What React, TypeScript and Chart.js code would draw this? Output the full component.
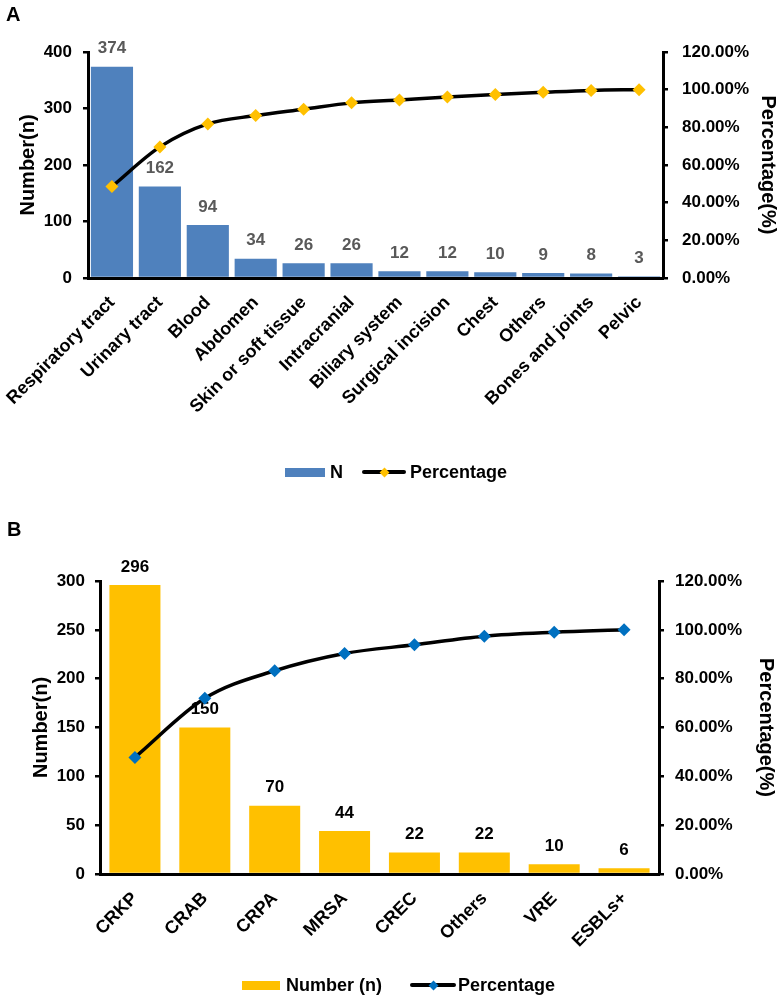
import React, { useEffect, useRef } from "react";
import { Chart, registerables } from "chart.js";

Chart.register(...registerables);

const FONT = '"Liberation Sans", Arial, Helvetica, sans-serif';

// ---- Panel A data ----
const sitesA = [
  "Respiratory tract",
  "Urinary tract",
  "Blood",
  "Abdomen",
  "Skin or soft tissue",
  "Intracranial",
  "Biliary system",
  "Surgical incision",
  "Chest",
  "Others",
  "Bones and joints",
  "Pelvic",
];
const countsA = [374, 162, 94, 34, 26, 26, 12, 12, 10, 9, 8, 3];
const percentA = [48.57, 69.61, 81.82, 86.23, 89.61, 92.99, 94.55, 96.1, 97.4, 98.57, 99.61, 100];
const leftMaxA = 400;
const leftStepA = 100;

// ---- Panel B data ----
const pathogensB = ["CRKP", "CRAB", "CRPA", "MRSA", "CREC", "Others", "VRE", "ESBLs+"];
const countsB = [296, 150, 70, 44, 22, 22, 10, 6];
const percentB = [47.74, 71.94, 83.23, 90.32, 93.87, 97.42, 99.03, 100];
const leftMaxB = 300;
const leftStepB = 50;

const rightMax = 120;
const rightStep = 20;

const barLabels = {
  id: "barLabels",
  afterDatasetDraw(chart: any, args: any, opts: any) {
    if (args.index !== 0) return;
    const ctx = chart.ctx;
    const data = chart.data.datasets[0].data;
    ctx.save();
    ctx.font = `bold 17px ${FONT}`;
    ctx.fillStyle = opts.color || "#000";
    ctx.textAlign = "center";
    ctx.textBaseline = "middle";
    args.meta.data.forEach((el: any, i: number) => {
      ctx.fillText(String(data[i]), el.x, el.y - (opts.offset || 18));
    });
    ctx.restore();
  },
};

type ParetoProps = {
  width: number;
  height: number;
  labels: string[];
  counts: number[];
  percents: number[];
  barColor: string;
  markerColor: string;
  labelColor: string;
  barName: string;
  leftMax: number;
  leftStep: number;
  barPct: number;
  area: { left: number; right: number; top: number; bottom: number };
  leftTickPad: number;
  rightTickPad: number;
  leftTitlePad: number;
  rightTitlePad: number;
  xTickPad: number;
};

function zeroPad(s: any) {
  s.paddingLeft = 0;
  s.paddingRight = 0;
  s.paddingTop = 0;
  s.paddingBottom = 0;
}

function Pareto(p: ParetoProps) {
  const ref = useRef<HTMLCanvasElement | null>(null);
  useEffect(() => {
    if (!ref.current) return;
    const tickFont = { family: FONT, size: 17, weight: "bold" as const };
    const xTickFont = { family: FONT, size: 18, weight: "bold" as const };
    const titleFont = { family: FONT, size: 20, weight: "bold" as const };
    const chart = new Chart(ref.current, {
      type: "bar",
      data: {
        labels: p.labels,
        datasets: [
          {
            type: "bar",
            label: p.barName,
            data: p.counts,
            backgroundColor: p.barColor,
            borderWidth: 0,
            yAxisID: "y",
            categoryPercentage: 1,
            barPercentage: p.barPct,
            order: 2,
          } as any,
          {
            type: "line",
            label: "Percentage",
            data: p.percents,
            borderColor: "#000",
            borderWidth: 3.5,
            cubicInterpolationMode: "monotone",
            pointStyle: "rectRot",
            pointRadius: 6.5,
            pointBackgroundColor: p.markerColor,
            pointBorderColor: p.markerColor,
            pointBorderWidth: 0,
            yAxisID: "y1",
            order: 1,
            clip: false,
          } as any,
        ],
      },
      options: {
        responsive: false,
        animation: false,
        layout: { padding: { top: p.area.top, left: 0, right: 0, bottom: 0 } },
        plugins: {
          legend: { display: false },
          tooltip: { enabled: false },
          barLabels: { color: p.labelColor, offset: 18 },
        } as any,
        scales: {
          x: {
            grid: { display: false, drawTicks: false },
            border: { display: true, color: "#000", width: 3 },
            ticks: {
              color: "#000",
              font: xTickFont,
              minRotation: 45,
              maxRotation: 45,
              autoSkip: false,
              padding: p.xTickPad,
            },
            afterFit: (s: any) => {
              s.height = p.height - p.area.bottom;
              zeroPad(s);
            },
          },
          y: {
            position: "left",
            min: 0,
            max: p.leftMax,
            ticks: {
              stepSize: p.leftStep,
              color: "#000",
              font: tickFont,
              padding: p.leftTickPad,
            },
            grid: { drawOnChartArea: false, drawTicks: true, tickLength: 5, color: "#000", lineWidth: 2.5 },
            border: { color: "#000", width: 3 },
            title: { display: true, text: "Number(n)", color: "#000", font: titleFont, padding: p.leftTitlePad },
            afterFit: (s: any) => {
              s.width = p.area.left;
              zeroPad(s);
            },
          },
          y1: {
            position: "right",
            min: 0,
            max: rightMax,
            ticks: {
              stepSize: rightStep,
              color: "#000",
              font: tickFont,
              padding: p.rightTickPad,
              callback: (v: any) => Number(v).toFixed(2) + "%",
            },
            grid: { drawOnChartArea: false, drawTicks: true, tickLength: 5, color: "#000", lineWidth: 2.5 },
            border: { color: "#000", width: 3 },
            title: { display: true, text: "Percentage(%)", color: "#000", font: titleFont, padding: p.rightTitlePad },
            afterFit: (s: any) => {
              s.width = p.width - p.area.right;
              zeroPad(s);
            },
          },
        } as any,
      },
      plugins: [barLabels as any],
    });
    return () => chart.destroy();
  }, []);
  return <canvas ref={ref} width={p.width} height={p.height} style={{ display: "block", width: p.width, height: p.height }} />;
}

function Legend(props: {
  top: number;
  boxLeft: number;
  boxWidth: number;
  boxColor: string;
  barName: string;
  textLeft: number;
  lineLeft: number;
  lineWidth: number;
  markerColor: string;
  pctLeft: number;
}) {
  const cy = props.top;
  const txt: React.CSSProperties = {
    position: "absolute",
    top: cy - 11,
    height: 22,
    lineHeight: "22px",
    fontFamily: FONT,
    fontWeight: "bold",
    fontSize: 18,
    color: "#000",
    whiteSpace: "nowrap",
  };
  return (
    <>
      <div style={{ position: "absolute", left: props.boxLeft, top: cy - 4.5, width: props.boxWidth, height: 9, background: props.boxColor }} />
      <div style={{ ...txt, left: props.textLeft }}>{props.barName}</div>
      <div style={{ position: "absolute", left: props.lineLeft, top: cy - 2, width: props.lineWidth, height: 4, background: "#000", borderRadius: 2 }} />
      <div
        style={{
          position: "absolute",
          left: props.lineLeft + props.lineWidth / 2 - 3.5,
          top: cy - 3.5,
          width: 7,
          height: 7,
          background: props.markerColor,
          transform: "rotate(45deg)",
        }}
      />
      <div style={{ ...txt, left: props.pctLeft }}>Percentage</div>
    </>
  );
}

const panelLetter: React.CSSProperties = {
  position: "absolute",
  fontFamily: FONT,
  fontWeight: "bold",
  fontSize: 20,
  lineHeight: "20px",
  color: "#000",
};

export default function App() {
  return (
    <div style={{ position: "absolute", left: 0, top: 0, width: 782, height: 999, background: "#fff", overflow: "hidden" }}>
      <div style={{ position: "absolute", left: 0, top: 0 }}>
        <Pareto
          width={782}
          height={500}
          labels={sitesA}
          counts={countsA}
          percents={percentA}
          barColor="#4F81BD"
          markerColor="#FFC000"
          labelColor="#595959"
          barName="N"
          leftMax={leftMaxA}
          leftStep={leftStepA}
          barPct={0.88}
          area={{ left: 88, right: 663, top: 52, bottom: 278 }}
          leftTickPad={11}
          rightTickPad={14}
          leftTitlePad={16}
          rightTitlePad={2}
          xTickPad={14}
        />
      </div>
      <div style={{ position: "absolute", left: 0, top: 500 }}>
        <Pareto
          width={782}
          height={499}
          labels={pathogensB}
          counts={countsB}
          percents={percentB}
          barColor="#FFC000"
          markerColor="#0070C0"
          labelColor="#000"
          barName="Number (n)"
          leftMax={leftMaxB}
          leftStep={leftStepB}
          barPct={0.73}
          area={{ left: 100, right: 659, top: 81, bottom: 374 }}
          leftTickPad={10}
          rightTickPad={11}
          leftTitlePad={29}
          rightTitlePad={4}
          xTickPad={14}
        />
      </div>
      <div style={{ ...panelLetter, left: 6, top: 4 }}>A</div>
      <div style={{ ...panelLetter, left: 7, top: 519 }}>B</div>
      <Legend
        top={472}
        boxLeft={285}
        boxWidth={40}
        boxColor="#4F81BD"
        barName="N"
        textLeft={330}
        lineLeft={362}
        lineWidth={44}
        markerColor="#FFC000"
        pctLeft={410}
      />
      <Legend
        top={985}
        boxLeft={242}
        boxWidth={38}
        boxColor="#FFC000"
        barName="Number (n)"
        textLeft={286}
        lineLeft={410}
        lineWidth={46}
        markerColor="#0070C0"
        pctLeft={458}
      />
    </div>
  );
}
